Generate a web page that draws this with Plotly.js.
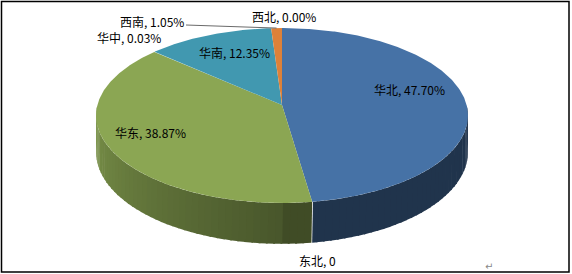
<!DOCTYPE html>
<html><head><meta charset="utf-8">
<script src="https://cdn.plot.ly/plotly-3.0.1.min.js"></script>
<style>html,body{margin:0;padding:0;background:#fff;}#chart{width:572px;height:274px;}</style>
</head><body><div id="chart"></div>
<script>
// ---- data ----
const regions = ['华北', '东北', '华东', '华中', '华南', '西南', '西北'];
const shares = [47.70, 0, 38.87, 0.03, 12.35, 1.05, 0.00];
const labelTexts = ['华北, 47.70%', '东北, 0', '华东, 38.87%', '华中, 0.03%', '华南, 12.35%', '西南, 1.05%', '西北, 0.00%'];

// ---- styles / positions ----
const topColors = ['#4672A6', '#BE4B48', '#8BA653', '#7D60A0', '#4198B0', '#DE8139', '#2C4D75'];
const labelPos = {
  '华北': [372, 89], '东北': [297, 260], '华东': [113, 132], '华中': [95, 37],
  '华南': [197, 52], '西南': [118, 21], '西北': [250, 16]
};
// perspective-projected 3D pie geometry (pixels)
const G = {cx: 282, cy: 105, rx: 184.6, ry: 86.2, p: 0.12, depth: 36};

function pt(deg, dz) {
  const r = deg * Math.PI / 180;
  const u = Math.sin(r), v = Math.cos(r), w = 1 + G.p * v;
  return [G.cx + G.rx * u / w, G.cy - G.ry * v / w + dz / w];
}
function shade(hex, f) {
  const n = parseInt(hex.slice(1), 16);
  const c = [(n >> 16) & 255, (n >> 8) & 255, n & 255].map(v => Math.max(0, Math.min(255, Math.round(v * f))));
  return 'rgb(' + c.join(',') + ')';
}
function sideFactor(t) {
  if (t <= 180) return 0.46;
  return 0.52 + 0.38 * (t - 180) / 90;
}
function poly(xs, ys, color) {
  return {x: xs, y: ys, type: 'scatter', mode: 'lines', fill: 'toself', fillcolor: color,
    line: {width: 0, color: color}, hoverinfo: 'skip', showlegend: false};
}

const total = shares.reduce((a, b) => a + b, 0);
const sideTraces = [], topTraces = [];
let cum = 0;
const angles = shares.map(v => { const a0 = cum / total * 360; cum += v; return [a0, cum / total * 360]; });

angles.forEach(([a0, a1], i) => {
  // side wall (front half only: 90..270 deg)
  const s0 = Math.max(a0, 90), s1 = Math.min(a1, 270);
  if (s1 > s0) {
    const step = 2;
    for (let t = s0; t < s1; t += step) {
      const t2 = Math.min(t + step + 0.7, s1);
      const xs = [], ys = [];
      for (let u = t; u <= t2 + 1e-9; u += 0.5) { const q = pt(Math.min(u, t2), 0); xs.push(q[0]); ys.push(q[1]); }
      for (let u = t2; u >= t - 1e-9; u -= 0.5) { const q = pt(Math.max(u, t), G.depth); xs.push(q[0]); ys.push(q[1]); }
      sideTraces.push(poly(xs, ys, shade(topColors[i], sideFactor((t + t2) / 2))));
    }
  }
  // top face
  if (a1 > a0) {
    const xs = [G.cx], ys = [G.cy];
    const n = Math.max(2, Math.ceil((a1 - a0) / 0.5));
    for (let k = 0; k <= n; k++) { const q = pt(a0 + (a1 - a0) * k / n, 0); xs.push(q[0]); ys.push(q[1]); }
    xs.push(G.cx); ys.push(G.cy);
    topTraces.push(poly(xs, ys, topColors[i]));
  }
});

// leader line for 西南
const iSW = regions.indexOf('西南');
const mid = (angles[iSW][0] + angles[iSW][1]) / 2;
const pe = pt(mid, 0);
const leader = {x: [186, pe[0]], y: [25, pe[1]], type: 'scatter', mode: 'lines',
  line: {color: '#6a6a6a', width: 1}, hoverinfo: 'skip', showlegend: false};

const annotations = regions.map((r, i) => ({
  x: labelPos[r][0], y: labelPos[r][1], xref: 'x', yref: 'y', text: labelTexts[i],
  showarrow: false, xanchor: 'left', yanchor: 'middle',
  font: {family: '"Noto Sans CJK SC", "Noto Sans", sans-serif', size: 12, color: '#000'}
}));
annotations.push({x: 483, y: 266, xref: 'x', yref: 'y', text: '↵', showarrow: false,
  xanchor: 'left', yanchor: 'middle', font: {family: 'DejaVu Sans', size: 10, color: '#888'}});

const layout = {
  width: 572, height: 274, margin: {l: 0, r: 0, t: 0, b: 0},
  paper_bgcolor: '#fff', plot_bgcolor: '#fff', hovermode: false,
  xaxis: {range: [0, 572], visible: false, fixedrange: true},
  yaxis: {range: [274, 0], visible: false, fixedrange: true},
  annotations: annotations,
  shapes: [{type: 'rect', xref: 'x', yref: 'y', x0: 1.5, y0: 1.5, x1: 569, y1: 272,
    line: {color: '#000', width: 1.5}, fillcolor: 'rgba(0,0,0,0)'}]
};

Plotly.newPlot('chart', sideTraces.concat(topTraces, [leader]), layout, {staticPlot: true, displayModeBar: false});
</script></body></html>
